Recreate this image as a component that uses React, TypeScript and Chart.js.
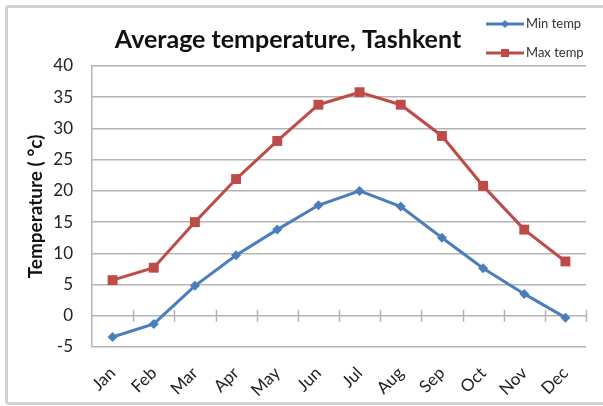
import React, { useEffect, useRef } from "react";
import { Chart, registerables } from "chart.js";
Chart.register(...registerables);

const months = ["Jan", "Feb", "Mar", "Apr", "May", "Jun", "Jul", "Aug", "Sep", "Oct", "Nov", "Dec"];
const minTemp = [-3.4, -1.3, 4.8, 9.7, 13.8, 17.7, 20, 17.5, 12.5, 7.6, 3.5, -0.3];
const maxTemp = [5.7, 7.7, 15, 21.9, 28, 33.8, 35.8, 33.8, 28.8, 20.8, 13.8, 8.7];
const yTicks = { min: -5, max: 40, step: 5 };
const titleText = "Average temperature, Tashkent";
const yTitle = "Temperature ( °c)";
const seriesNames = ["Min temp", "Max temp"];

const BLUE = "#4a7ebb";
const RED = "#be4b48";
const GRID = "#b4b4b4";
const FONT = "Lato";

const decorPlugin = {
  id: "decor",
  beforeDatasetsDraw(chart: any) {
    const { ctx } = chart;
    const x = chart.scales.x;
    const y = chart.scales.y;
    const y0 = y.getPixelForValue(0);
    ctx.save();
    ctx.strokeStyle = GRID;
    ctx.lineWidth = 1.5;
    const n = chart.data.labels.length;
    for (let k = 1; k <= n; k++) {
      const px = Math.round(x.left + (k * (x.right - x.left)) / n) + 0.5;
      ctx.beginPath();
      ctx.moveTo(px, y0 - 6);
      ctx.lineTo(px, y0 + 6);
      ctx.stroke();
    }
    ctx.restore();
  },
  afterDraw(chart: any) {
    const { ctx } = chart;
    ctx.save();
    // title
    ctx.fillStyle = "#111";
    ctx.font = `bold 25px ${FONT}`;
    ctx.textAlign = "center";
    ctx.textBaseline = "middle";
    ctx.fillText(titleText, 288, 40);
    // legend
    const items = [
      { name: seriesNames[0], color: BLUE, y: 24, style: "diamond" },
      { name: seriesNames[1], color: RED, y: 53, style: "square" },
    ];
    items.forEach((it) => {
      ctx.strokeStyle = it.color;
      ctx.fillStyle = it.color;
      ctx.lineWidth = 3;
      ctx.beginPath();
      ctx.moveTo(486, it.y);
      ctx.lineTo(524, it.y);
      ctx.stroke();
      ctx.beginPath();
      if (it.style === "diamond") {
        ctx.moveTo(505, it.y - 4);
        ctx.lineTo(509, it.y);
        ctx.lineTo(505, it.y + 4);
        ctx.lineTo(501, it.y);
        ctx.closePath();
      } else {
        ctx.rect(501, it.y - 4, 8, 8);
      }
      ctx.fill();
      ctx.fillStyle = "#333";
      ctx.font = `13px ${FONT}`;
      ctx.textAlign = "left";
      ctx.textBaseline = "middle";
      ctx.fillText(it.name, 526, it.y);
    });
    ctx.restore();
  },
};

export default function App() {
  const ref = useRef<HTMLCanvasElement | null>(null);
  useEffect(() => {
    document.body.style.margin = "0";
    const canvas = ref.current;
    if (!canvas) return;
    const chart = new Chart(canvas, {
      type: "line",
      data: {
        labels: months,
        datasets: [
          {
            label: seriesNames[0],
            data: minTemp,
            borderColor: BLUE,
            backgroundColor: BLUE,
            borderWidth: 3,
            pointStyle: "rectRot",
            pointRadius: 5,
            pointBorderWidth: 0,
            tension: 0,
          },
          {
            label: seriesNames[1],
            data: maxTemp,
            borderColor: RED,
            backgroundColor: RED,
            borderWidth: 3,
            pointStyle: "rect",
            pointRadius: 7,
            pointBorderWidth: 0,
            tension: 0,
          },
        ],
      },
      options: {
        responsive: false,
        animation: false,
        layout: { padding: { top: 66, right: 17, left: 0, bottom: 0 } },
        plugins: {
          legend: { display: false },
          title: { display: false },
          tooltip: { enabled: false },
        },
        scales: {
          x: {
            offset: true,
            grid: { display: false },
            border: { display: false },
            ticks: {
              maxRotation: 45,
              minRotation: 45,
              color: "#222",
              font: { family: FONT, size: 17 },
              padding: 8,
              autoSkip: false,
            },
            afterFit: (s: any) => {
              s.height = 59;
            },
          },
          y: {
            min: yTicks.min,
            max: yTicks.max,
            ticks: {
              stepSize: yTicks.step,
              color: "#222",
              font: { family: FONT, size: 17 },
              padding: 19,
            },
            grid: { color: GRID, lineWidth: 1.5, drawTicks: false },
            border: { display: true, color: GRID, width: 1.5 },
            title: {
              display: true,
              text: yTitle,
              color: "#111",
              font: { family: FONT, size: 19, weight: "bold" },
              padding: { top: 24, bottom: 0 },
            },
            afterFit: (s: any) => {
              s.width = 92;
            },
          },
        },
      },
      plugins: [decorPlugin],
    });
    return () => chart.destroy();
  }, []);
  return (
    <div style={{ position: "relative", width: 603, height: 406, overflow: "hidden", background: "#fff" }}>
      <div
        style={{
          position: "absolute",
          left: 5,
          top: 5,
          width: 660,
          height: 400,
          boxSizing: "border-box",
          border: "3px solid #d2d2d2",
          borderRadius: 4,
        }}
      />
      <canvas ref={ref} width={603} height={406} style={{ position: "absolute", left: 0, top: 0 }} />
    </div>
  );
}
